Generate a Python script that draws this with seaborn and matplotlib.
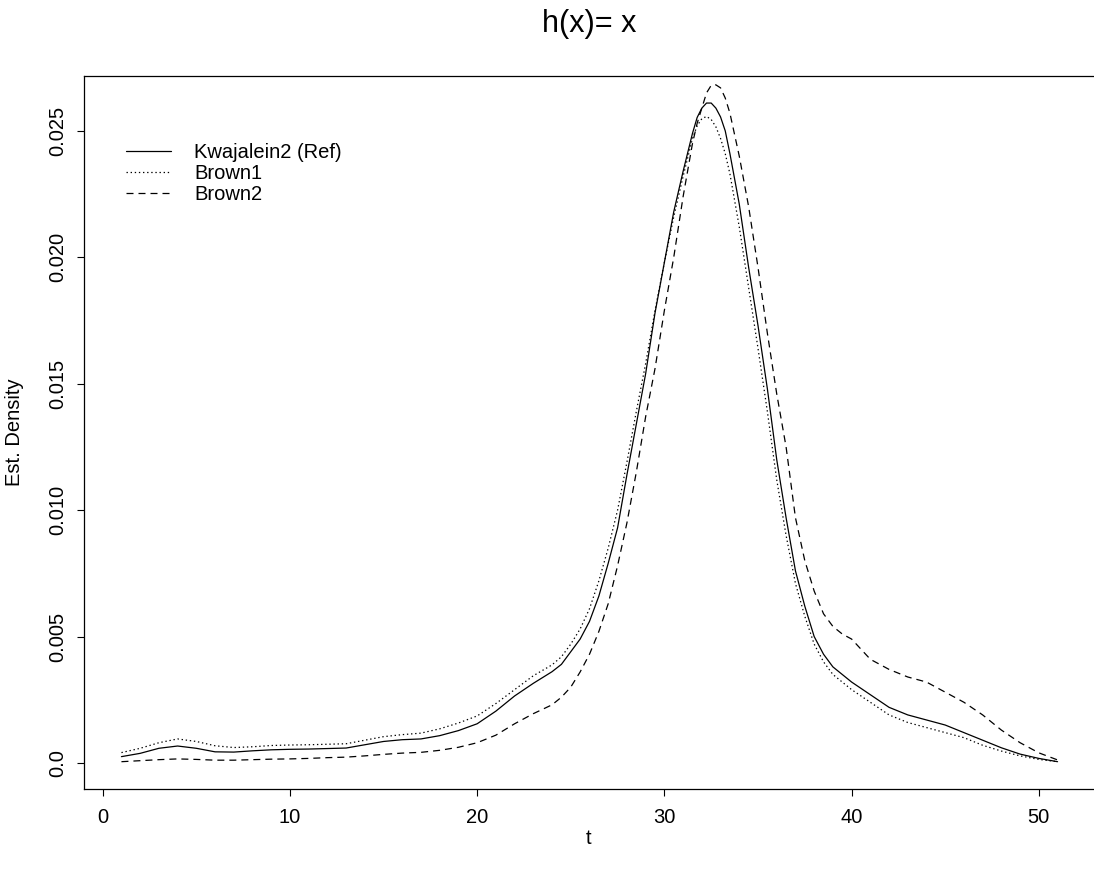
import numpy as np
import pandas as pd
import matplotlib
matplotlib.use("Agg")
import matplotlib.pyplot as plt
import seaborn as sns

# ---------------- data ----------------
t = [1, 2, 3, 4, 5, 6, 7, 8, 9, 10, 11, 12, 13, 14, 15, 16, 17, 18, 19, 20,
     21, 22, 23, 24, 24.5, 25, 25.5, 26, 26.5, 27, 27.5, 28, 28.5, 29, 29.5,
     30, 30.5, 31, 31.5, 31.75, 32, 32.25, 32.5, 32.75, 33, 33.25, 33.5,
     34, 34.5, 35, 35.5, 36, 36.5, 37, 37.5, 38, 38.5, 39, 39.5, 40, 41, 42,
     43, 44, 45, 46, 47, 48, 49, 50, 51]

kwajalein2 = [0.00025, 0.00038, 0.00058, 0.00067, 0.00058, 0.00044, 0.00043,
              0.00048, 0.00052, 0.00054, 0.00055, 0.00057, 0.00059, 0.00072,
              0.00085, 0.00092, 0.00095, 0.00108, 0.00128, 0.00155, 0.00205,
              0.00265, 0.00315, 0.00361, 0.0039, 0.0044, 0.0049, 0.0056,
              0.0066, 0.0079, 0.0093, 0.0114, 0.0134, 0.0154, 0.0178, 0.0198,
              0.0218, 0.0234, 0.0249, 0.02553, 0.0259, 0.0261, 0.0261, 0.0259,
              0.02555, 0.0250, 0.0241, 0.0221, 0.0196, 0.0173, 0.0148, 0.0120,
              0.0097, 0.0076, 0.0062, 0.0050, 0.0043, 0.0038, 0.0035, 0.0032,
              0.0027, 0.0022, 0.0019, 0.0017, 0.0015, 0.0012, 0.0009, 0.0006,
              0.00035, 0.00018, 0.00005]

brown1 = [0.00041, 0.00058, 0.00080, 0.00095, 0.00085, 0.00068, 0.00061,
          0.00064, 0.00069, 0.00071, 0.00072, 0.00074, 0.00076, 0.00090,
          0.00104, 0.00112, 0.00118, 0.00135, 0.00158, 0.00186, 0.00235,
          0.00290, 0.00345, 0.00388, 0.0042, 0.0047, 0.0053, 0.0061, 0.0072,
          0.0085, 0.0100, 0.0119, 0.0139, 0.0158, 0.0179, 0.0198, 0.0216,
          0.0232, 0.0247, 0.0252, 0.02548, 0.02557, 0.02545, 0.02516, 0.0247,
          0.0241, 0.0233, 0.0212, 0.0188, 0.0164, 0.0139, 0.0112, 0.0090,
          0.0071, 0.0058, 0.0047, 0.0040, 0.0035, 0.0032, 0.0029, 0.0024,
          0.0019, 0.0016, 0.0014, 0.0012, 0.0010, 0.0007, 0.00047, 0.00028,
          0.00014, 0.00005]

brown2 = [0.00005, 0.00009, 0.00013, 0.00016, 0.00014, 0.00011, 0.00011,
          0.00013, 0.00015, 0.00016, 0.00018, 0.00021, 0.00023, 0.00028,
          0.00034, 0.00039, 0.00042, 0.00050, 0.00062, 0.00080, 0.00110,
          0.00155, 0.00195, 0.00230, 0.0026, 0.0030, 0.0036, 0.0043, 0.0052,
          0.0063, 0.0078, 0.0095, 0.0115, 0.0137, 0.0156, 0.0179, 0.0200,
          0.0224, 0.0245, 0.0253, 0.0259, 0.0265, 0.0268, 0.02682, 0.0267,
          0.0263, 0.0257, 0.0240, 0.0220, 0.0196, 0.0170, 0.0146, 0.0125,
          0.0097, 0.0080, 0.0068, 0.0059, 0.0054, 0.0051, 0.0049, 0.0041,
          0.0037, 0.0034, 0.0032, 0.0028, 0.0024, 0.0019, 0.0013, 0.0008,
          0.0004, 0.00012]

series_names = ["Kwajalein2 (Ref)", "Brown1", "Brown2"]
x_ticks = [0, 10, 20, 30, 40, 50]
y_ticks = [0.0, 0.005, 0.010, 0.015, 0.020, 0.025]
y_tick_labels = ["0.0", "0.005", "0.010", "0.015", "0.020", "0.025"]
title = "h(x)= x"
x_label = "t"
y_label = "Est. Density"

# ---------------- build long-form table ----------------
df = pd.concat([
    pd.DataFrame({"t": t, "density": kwajalein2, "series": series_names[0]}),
    pd.DataFrame({"t": t, "density": brown1, "series": series_names[1]}),
    pd.DataFrame({"t": t, "density": brown2, "series": series_names[2]}),
], ignore_index=True)

sns.set_style("white")
plt.rcParams["font.family"] = ["Liberation Sans", "DejaVu Sans"]
plt.rcParams["text.color"] = "black"
plt.rcParams["axes.labelcolor"] = "black"
plt.rcParams["xtick.color"] = "black"
plt.rcParams["ytick.color"] = "black"

W, H = 1094, 871
fig = plt.figure(figsize=(W / 100, H / 100), dpi=100)
ax_l, ax_r, ax_t, ax_b = 84, 1095, 76, 789
ax = fig.add_axes([ax_l / W, 1 - ax_b / H, (ax_r - ax_l) / W, (ax_b - ax_t) / H])

lw = 0.9
dashes = {series_names[0]: "", series_names[1]: (1.1, 2.2), series_names[2]: (5.6, 4.0)}
palette = {n: "black" for n in series_names}
sns.lineplot(data=df, x="t", y="density", hue="series", style="series",
             dashes=dashes, palette=palette, linewidth=lw, ax=ax,
             sort=False, estimator=None)

ax.set_xlim(-1, 53)
ax.set_ylim(-0.00103, 0.02717)
ax.set_xticks(x_ticks)
ax.set_xticklabels([str(v) for v in x_ticks])
ax.set_yticks(y_ticks)
ax.set_yticklabels(y_tick_labels, rotation=90, va="center")
ax.tick_params(axis="both", which="both", direction="out", length=5,
               width=0.8, color="black", labelsize=14.5, labelcolor="black",
               bottom=True, left=True)
ax.tick_params(axis="x", pad=8.5)
ax.tick_params(axis="y", pad=7)
for name, s in ax.spines.items():
    s.set_visible(name != "right")
    s.set_color("black")
    s.set_linewidth(0.9)
ax.set_xlabel("")
ax.set_ylabel("")

fig.text(589 / W, 1 - 838 / H, x_label, ha="center", va="center",
         fontsize=14.5, color="black")
fig.text(15 / W, 1 - 432 / H, y_label, ha="center", va="center",
         rotation=90, fontsize=14.5, color="black")
fig.text(589 / W, 1 - 24 / H, title, ha="center", va="center",
         fontsize=22, color="black")

leg = ax.legend(loc="upper left",
                bbox_to_anchor=((126 - ax_l) / (ax_r - ax_l), 1 - (143 - ax_t) / (ax_b - ax_t)),
                frameon=False, fontsize=14.5, handlelength=2.25,
                handletextpad=1.15, labelspacing=0.1, borderpad=0,
                borderaxespad=0, title=None)
for line in leg.get_lines():
    line.set_linewidth(lw)
for txt in leg.get_texts():
    txt.set_color("black")

fig.savefig("out.png", dpi=100, facecolor="white")
